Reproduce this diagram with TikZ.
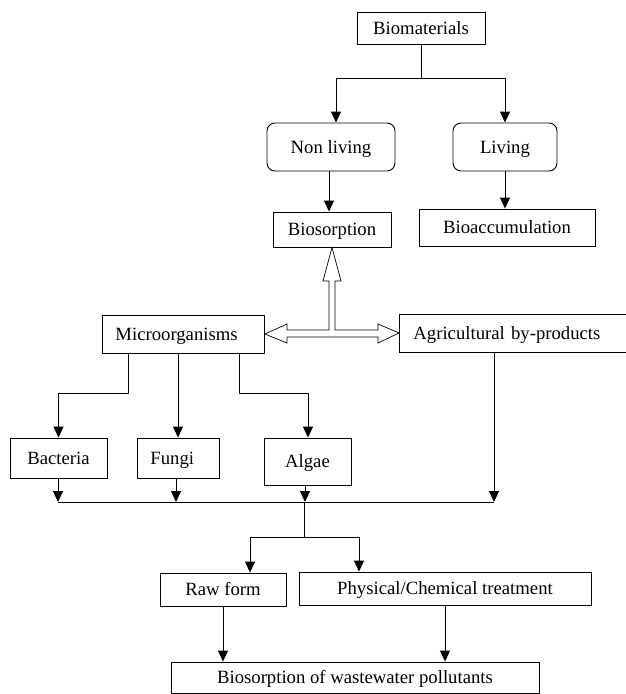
\documentclass[tikz,border=0pt]{standalone}
\usepackage{fontspec}
\setmainfont{Liberation Serif}
\usetikzlibrary{arrows.meta}
\begin{document}
\begin{tikzpicture}[x=1pt,y=-1pt,
 box/.style={draw, line width=0.9pt, inner sep=0pt, font=\fontsize{18.7}{22}\selectfont, align=center, text height=15.5pt, text depth=3pt},
 rbox/.style={box, rounded corners=8pt},
 conn/.style={line width=0.9pt},
 arr/.style={conn, -{Triangle[length=11pt,width=10pt]}},
 hollow/.style={line width=0.7pt, fill=white, line join=miter}
]
\useasboundingbox (0,0) rectangle (625,694);
% nodes
\node[box, minimum width=128pt, minimum height=32pt] (bio) at (421,28) {Biomaterials};
\node[rbox, minimum width=128pt, minimum height=48pt] (nl) at (331,147) {Non living};
\node[rbox, minimum width=104pt, minimum height=48pt] (lv) at (505,147) {Living};
\node[box, minimum width=118pt, minimum height=35pt] (bs) at (332,229.5) {Biosorption};
\node[box, minimum width=176pt, minimum height=37pt] (ba) at (507,227.5) {Bioaccumulation};
\node[box, anchor=west, minimum height=38pt, text width=136pt, inner xsep=13pt, align=left] (mo) at (102,334) {Microorganisms};
\node[box, anchor=west, minimum height=38pt, text width=212pt, inner xsep=14pt, align=left] (ag) at (399,333) {Agricultural by-products};
\node[box, minimum width=97pt, minimum height=40pt] (bac) at (58.5,458) {Bacteria};
\node[box, anchor=west, minimum height=40pt, text width=56pt, inner xsep=13pt, align=left] (fu) at (137,458) {Fungi};
\node[box, minimum width=87pt, minimum height=47pt] (al) at (307.5,461.5) {Algae};
\node[box, minimum width=126pt, minimum height=33pt] (raw) at (223,589.5) {Raw form};
\node[box, minimum width=292pt, minimum height=33pt] (ph) at (445,588.5) {Physical/Chemical treatment};
\node[box, minimum width=368pt, minimum height=31pt] (fin) at (355,677.5) {Biosorption of wastewater pollutants};
% top tree
\coordinate (jb) at (421,78);
\draw[conn] (bio.south) -- (jb);
\draw[arr] (jb) -| (336,0 |- nl.north);
\draw[arr] (jb) -| (lv.north);
\draw[arr] (329,0 |- nl.south) -- (329,0 |- bs.north);
\draw[arr] (lv.south) -- (lv.south |- ba.north);
% hollow double arrow
\draw[hollow] (mo.east) -- (287,324) -- (287,330) -- (329,330) -- (329,281) -- (323,281) -- (bs.south) -- (341,281) -- (335,281) -- (335,330) -- (378,330) -- (378,324) -- (ag.west) -- (378,343) -- (378,337) -- (287,337) -- (287,343) -- cycle;
% microorganisms branches
\coordinate (jm1) at (128,393);
\coordinate (jm3) at (239,393);
\draw[arr] (128,0 |- mo.south) -- (jm1) -| (bac.north);
\draw[arr] (178,0 |- mo.south) -- (178,0 |- fu.north);
\draw[arr] (239,0 |- mo.south) -- (jm3) -| (308,0 |- al.north);
% collector
\coordinate (cl) at (58,502);
\coordinate (cr) at (494,502);
\coordinate (cm) at (304,502);
\draw[conn] (cl) -- (cr);
\draw[arr] (58,0 |- bac.south) -- (cl);
\draw[arr] (176,0 |- fu.south) -- (176,502);
\draw[arr] (305,0 |- al.south) -- (305,502);
\draw[arr] (494,0 |- ag.south) -- (cr);
\coordinate (jt) at (304,537);
\draw[conn] (cm) -- (jt);
\draw[arr] (jt) -| (250,0 |- raw.north);
\draw[arr] (jt) -| (359,0 |- ph.north);
\draw[arr] (raw.south) -- (raw.south |- fin.north);
\draw[arr] (ph.south) -- (ph.south |- fin.north);
\end{tikzpicture}
\end{document}
